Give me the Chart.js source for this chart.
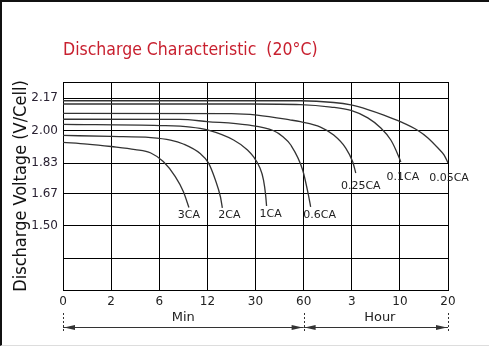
<!DOCTYPE html>
<html>
<head>
<meta charset="utf-8">
<title>Discharge Characteristic</title>
<script src="https://cdn.jsdelivr.net/npm/chart.js@4.4.0/dist/chart.umd.min.js"></script>
<style>
  html, body { margin: 0; padding: 0; background: #fff; }
  #wrap { position: relative; width: 489px; height: 352px; }
  #chart { position: absolute; left: 0; top: 0; width: 489px; height: 352px; }
  #frame { position: absolute; left: 0; top: 0; width: 487px; height: 343px;
           border-left: 2px solid #111; border-top: 2px solid #111; border-bottom: 1px solid #ddd;
           pointer-events: none; }
</style>
</head>
<body>
<div id="wrap">
  <canvas id="chart" width="489" height="352"></canvas>
  <div id="frame"></div>
</div>
<script>
// ---- data ----
const xTickLabels = ['0', '2', '6', '12', '30', '60', '3', '10', '20'];
const xTickMinutes = [0, 2, 6, 12, 30, 60, 180, 600, 1200]; // same ticks in minutes
const yTickValues = [1.50, 1.67, 1.83, 2.00, 2.17];
const yExtraLines = [1.33];
const spanLabels = ['Min', 'Hour'];

const seriesNames = ['3CA', '2CA', '1CA', '0.6CA', '0.25CA', '0.1CA', '0.05CA'];

// time in minutes / voltage per cell
const t3CA = [0, 1, 2, 4, 5.3, 6.5, 8, 9, 9.7];
const v3CA = [1.939, 1.930, 1.917, 1.901, 1.883, 1.838, 1.759, 1.681, 1.597];

const t2CA = [0, 2, 5.3, 7.4, 9, 11.1, 12.4, 15, 16.9, 17.6];
const v2CA = [1.975, 1.970, 1.964, 1.951, 1.930, 1.880, 1.831, 1.741, 1.652, 1.595];

const t1CA = [0, 6.1, 9.9, 12, 21.8, 27, 29.3, 32.5, 35, 36.3, 36.9];
const v1CA = [2.033, 2.027, 2.019, 2.004, 1.951, 1.899, 1.862, 1.810, 1.741, 1.663, 1.605];

const t06CA = [0, 8.6, 12, 27, 41, 46.9, 52, 59.4, 72.5, 77.5];
const v06CA = [2.060, 2.059, 2.048, 2.030, 2.001, 1.970, 1.925, 1.794, 1.657, 1.600];

const t025CA = [0, 21, 31, 52, 58, 102, 135, 165, 189, 215];
const v025CA = [2.091, 2.090, 2.082, 2.056, 2.047, 2.019, 1.977, 1.909, 1.836, 1.778];

const t01CA = [0, 28, 58, 128, 178, 320, 434, 521, 565, 612];
const v01CA = [2.140, 2.140, 2.137, 2.124, 2.106, 2.067, 2.014, 1.951, 1.899, 1.836];

const t005CA = [0, 58, 135, 178, 320, 460, 612, 825, 950, 1075, 1150, 1200];
const v005CA = [2.157, 2.157, 2.148, 2.135, 2.111, 2.082, 2.046, 2.001, 1.962, 1.909, 1.873, 1.831];

const seriesTimes = [t3CA, t2CA, t1CA, t06CA, t025CA, t01CA, t005CA];
const seriesVolts = [v3CA, v2CA, v1CA, v06CA, v025CA, v01CA, v005CA];

// label shift from curve end (px)
const labelOffsets = [[0, 8], [7, 7], [4, 8], [9, 8], [5, 13], [2, 15], [1, 15]];

// minutes -> position on the (evenly spaced) time axis
function toIndex(t) {
  for (let i = 0; i < xTickMinutes.length - 1; i++) {
    const a = xTickMinutes[i], b = xTickMinutes[i + 1];
    if (t <= b) return i + (t - a) / (b - a);
  }
  return xTickMinutes.length - 1;
}

const datasets = seriesNames.map((name, i) => ({
  label: name,
  data: seriesTimes[i].map((t, j) => ({ x: toIndex(t), y: seriesVolts[i][j] })),
  borderColor: '#333',
  borderWidth: 1.3,
  pointRadius: 0,
  fill: false,
  cubicInterpolationMode: 'monotone'
}));

// ---- plugins ----
const curveLabels = {
  id: 'curveLabels',
  afterDatasetsDraw(chart) {
    const { ctx } = chart;
    ctx.save();
    ctx.font = '11px "DejaVu Sans"';
    ctx.fillStyle = '#222';
    ctx.textAlign = 'center';
    ctx.textBaseline = 'middle';
    chart.data.datasets.forEach((ds, i) => {
      const pts = chart.getDatasetMeta(i).data;
      const last = pts[pts.length - 1];
      ctx.fillText(ds.label, last.x + labelOffsets[i][0], last.y + labelOffsets[i][1]);
    });
    ctx.restore();
  }
};

function arrowHead(ctx, x, y, dir) {
  ctx.beginPath();
  ctx.moveTo(x, y);
  ctx.lineTo(x - dir * 11, y - 2.5);
  ctx.lineTo(x - dir * 11, y + 2.5);
  ctx.closePath();
  ctx.fill();
}

const timeSpans = {
  id: 'timeSpans',
  afterDraw(chart) {
    const { ctx, chartArea } = chart;
    const x = chart.scales.x;
    const y = chartArea.bottom + 37;
    const edges = [0, 5, 8].map(v => x.getPixelForValue(v));
    ctx.save();
    ctx.strokeStyle = '#333';
    ctx.fillStyle = '#333';
    ctx.lineWidth = 1;
    // dashed markers
    ctx.setLineDash([2, 2]);
    edges.forEach(px => {
      ctx.beginPath();
      ctx.moveTo(Math.round(px) + 0.5, y - 14);
      ctx.lineTo(Math.round(px) + 0.5, y + 6);
      ctx.stroke();
    });
    ctx.setLineDash([]);
    ctx.font = '13px "DejaVu Sans"';
    ctx.textAlign = 'center';
    ctx.textBaseline = 'middle';
    spanLabels.forEach((lab, i) => {
      const a = edges[i], b = edges[i + 1];
      ctx.beginPath();
      ctx.moveTo(a, y + 0.5);
      ctx.lineTo(b, y + 0.5);
      ctx.stroke();
      arrowHead(ctx, a + 1, y + 0.5, -1);
      arrowHead(ctx, b - 1, y + 0.5, 1);
      ctx.fillStyle = '#222';
      ctx.fillText(lab, (a + b) / 2 + i * 4, y - 9);
      ctx.fillStyle = '#333';
    });
    ctx.restore();
  }
};

// ---- chart ----
new Chart(document.getElementById('chart'), {
  type: 'line',
  data: { datasets },
  options: {
    responsive: false,
    animation: false,
    events: [],
    layout: { padding: { left: 0, right: 41, bottom: 40, top: 0 } },
    plugins: {
      legend: { display: false },
      tooltip: { enabled: false },
      title: {
        display: true,
        text: 'Discharge Characteristic  (20°C)',
        align: 'start',
        fullSize: false,
        color: '#c8202f',
        font: { family: '"DejaVu Sans Condensed"', size: 17.5, weight: 'normal' },
        padding: { top: 39.5, bottom: 21.5 }
      }
    },
    scales: {
      x: {
        type: 'linear',
        min: 0,
        max: 8,
        afterFit: (s) => { s.height = 22; },
        ticks: {
          stepSize: 1,
          autoSkip: false,
          maxRotation: 0,
          padding: 5,
          color: '#222',
          font: { family: '"DejaVu Sans"', size: 12 },
          callback: (v) => xTickLabels[v]
        },
        grid: { color: '#000', lineWidth: 1, drawTicks: false },
        border: { color: '#000' }
      },
      y: {
        type: 'linear',
        min: 1.164,
        max: 2.2555,
        afterFit: (s) => { s.width = 63; },
        afterBuildTicks: (s) => {
          s.ticks = [s.min, ...yExtraLines, ...yTickValues, s.max].map(v => ({ value: v }));
        },
        ticks: {
          padding: 5,
          color: '#2a2233',
          font: { family: '"DejaVu Sans"', size: 12 },
          callback: (v) => yTickValues.includes(v) ? v.toFixed(2) : ''
        },
        grid: { color: '#000', lineWidth: 1, drawTicks: false },
        border: { color: '#000' },
        title: {
          display: true,
          text: 'Discharge Voltage (V/Cell)',
          color: '#111',
          font: { family: '"DejaVu Sans Condensed"', size: 18 },
          padding: { top: 11, bottom: 0 }
        }
      }
    }
  },
  plugins: [curveLabels, timeSpans]
});
</script>
</body>
</html>
